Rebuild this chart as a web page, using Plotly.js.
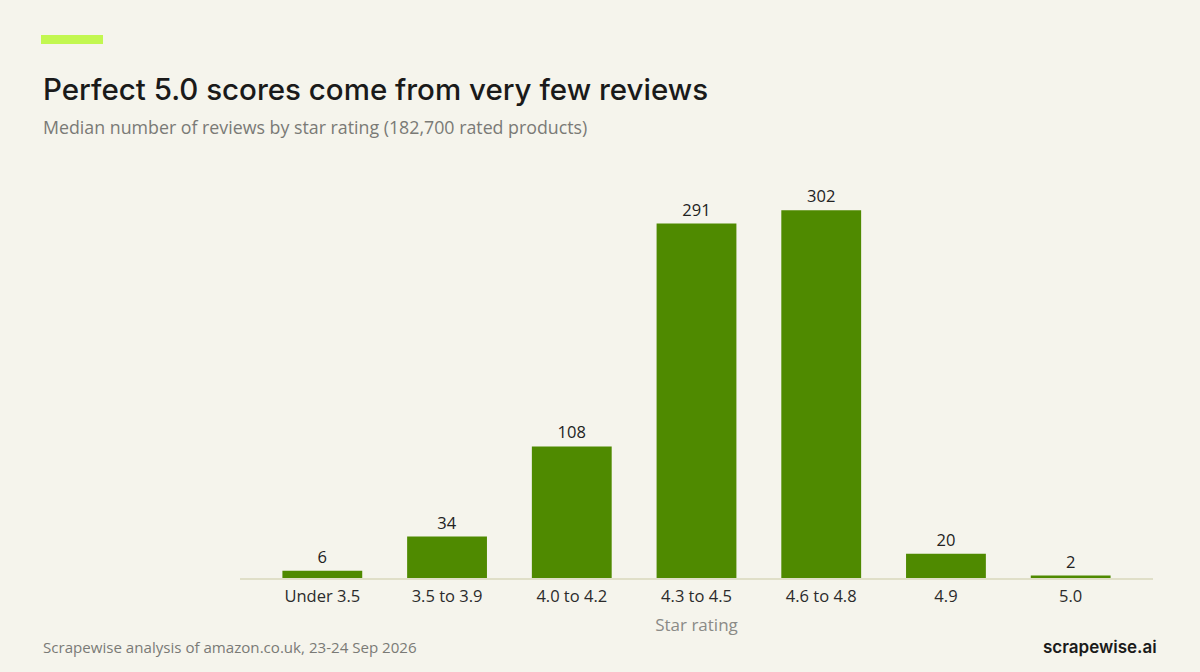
<!DOCTYPE html>
<html>
<head>
<meta charset="utf-8">
<script src="https://cdn.plot.ly/plotly-3.0.1.min.js"></script>
<style>
  html, body { margin: 0; padding: 0; background: #f5f4ec; }
  #chart { width: 1200px; height: 672px; }
</style>
</head>
<body>
<div id="chart"></div>
<script>
// data
var categories = ["Under 3.5", "3.5 to 3.9", "4.0 to 4.2", "4.3 to 4.5", "4.6 to 4.8", "4.9", "5.0"];
var medianReviews = [6, 34, 108, 291, 302, 20, 2];

var W = 1200, H = 672;
var m = { l: 240, r: 47, t: 170, b: 94 };
var plotW = W - m.l - m.r, plotH = H - m.t - m.b;

// pixel -> paper coords helpers
function px(x) { return (x - m.l) / plotW; }
function py(y) { return (H - m.b - y) / plotH; }

var bodyFont = "'Open Sans', sans-serif";

var trace = {
  type: "bar",
  x: categories,
  y: medianReviews,
  marker: { color: "#4f8a00" },
  text: medianReviews.map(String),
  textposition: "outside",
  cliponaxis: false,
  textfont: { family: bodyFont, size: 16.5, color: "#222222" },
  hoverinfo: "x+y"
};

var layout = {
  width: W,
  height: H,
  margin: m,
  paper_bgcolor: "#f5f4ec",
  plot_bgcolor: "#f5f4ec",
  bargap: 0.36,
  showlegend: false,
  xaxis: {
    range: [-0.66, 6.66],
    showgrid: false,
    showline: true,
    linecolor: "#e0dfc8",
    linewidth: 1.5,
    ticks: "",
    ticklabelstandoff: 3,
    tickfont: { family: bodyFont, size: 16.5, color: "#2b2b2b" },
    title: { text: "Star rating", font: { family: bodyFont, size: 17, color: "#8a8a86" }, standoff: 13 }
  },
  yaxis: {
    range: [0, 335],
    visible: false,
    fixedrange: true
  },
  shapes: [
    {
      type: "rect", xref: "paper", yref: "paper",
      x0: px(41), x1: px(103), y0: py(44), y1: py(35),
      fillcolor: "#c2f750", line: { width: 0 }
    }
  ],
  annotations: [
    {
      text: "Perfect 5.0 scores come from very few reviews",
      xref: "paper", yref: "paper", x: px(41), y: py(89),
      xanchor: "left", yanchor: "middle", showarrow: false,
      font: { family: "Inter, sans-serif", size: 29.5, weight: 500, color: "#1a1a1a" }
    },
    {
      text: "Median number of reviews by star rating (182,700 rated products)",
      xref: "paper", yref: "paper", x: px(41), y: py(127),
      xanchor: "left", yanchor: "middle", showarrow: false,
      font: { family: bodyFont, size: 17.8, color: "#7a7a76" }
    },
    {
      text: "Scrapewise analysis of amazon.co.uk, 23-24 Sep 2026",
      xref: "paper", yref: "paper", x: px(41), y: py(647),
      xanchor: "left", yanchor: "middle", showarrow: false,
      font: { family: bodyFont, size: 15.1, color: "#7a7a76" }
    },
    {
      text: "scrapewise.ai",
      xref: "paper", yref: "paper", x: px(1159), y: py(647),
      xanchor: "right", yanchor: "middle", showarrow: false,
      font: { family: "Inter, sans-serif", size: 17, weight: 600, color: "#1a1a1a" }
    }
  ]
};

Plotly.newPlot("chart", [trace], layout, { displayModeBar: false, staticPlot: true });
</script>
</body>
</html>
